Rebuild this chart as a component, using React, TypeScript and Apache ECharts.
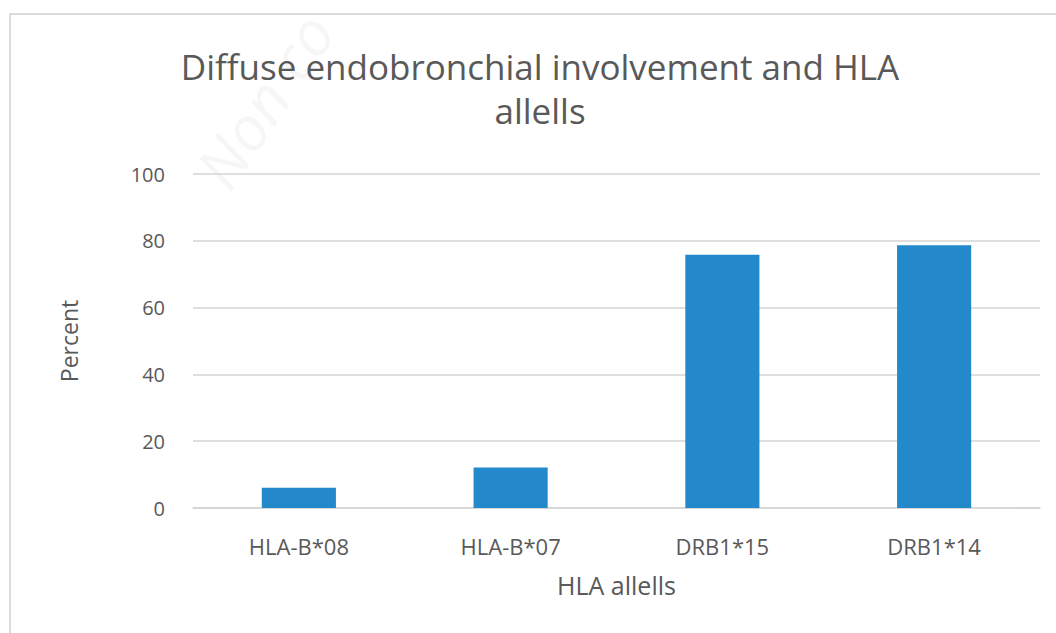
import React, { useEffect, useRef } from "react";
import * as echarts from "echarts";

const categories = ["HLA-B*08", "HLA-B*07", "DRB1*15", "DRB1*14"];
const percentValues = [6.1, 12.1, 75.8, 78.7];
const yTicks = [0, 20, 40, 60, 80, 100];

const TEXT = "#595959";
const FONT = "'Open Sans', 'Noto Sans', sans-serif";

export default function App() {
  const ref = useRef<HTMLDivElement>(null);
  useEffect(() => {
    if (!ref.current) return;
    const chart = echarts.init(ref.current, undefined, { renderer: "svg" });
    chart.setOption({
      animation: false,
      backgroundColor: "#ffffff",
      textStyle: { fontFamily: FONT },
      graphic: [
        {
          type: "rect",
          shape: { x: 10, y: 14, width: 1100, height: 700 },
          style: { fill: "none", stroke: "#d0d0d0", lineWidth: 1.5 },
          silent: true,
        },
        {
          type: "text",
          x: 210,
          y: 180,
          rotation: (56 * Math.PI) / 180,
          style: {
            text: "Non co",
            font: `italic 62px ${FONT}`,
            fill: "rgba(0,0,0,0.035)",
            textAlign: "left",
            textVerticalAlign: "middle",
          },
          silent: true,
        },
        {
          type: "text",
          x: 540,
          y: 44,
          style: {
            text: "Diffuse endobronchial involvement and HLA\nallells",
            font: `35px ${FONT}`,
            lineHeight: 44,
            fill: TEXT,
            textAlign: "center",
            textVerticalAlign: "top",
          },
        },
      ],
      grid: { left: 193, right: 16, top: 174, bottom: 125, containLabel: false },
      xAxis: {
        type: "category",
        data: categories,
        name: "HLA allells",
        nameLocation: "middle",
        nameGap: 64,
        nameTextStyle: { color: TEXT, fontSize: 25, fontFamily: FONT },
        axisLine: { lineStyle: { color: "#d4d4d4", width: 1.5 } },
        axisTick: { show: false },
        axisLabel: { color: TEXT, fontSize: 22, margin: 27, fontFamily: FONT },
      },
      yAxis: {
        type: "value",
        min: 0,
        max: 100,
        interval: 20,
        name: "Percent",
        nameLocation: "middle",
        nameGap: 113,
        nameTextStyle: { color: TEXT, fontSize: 23, fontFamily: FONT },
        axisLine: { show: false },
        axisTick: { show: false },
        axisLabel: {
          color: TEXT,
          fontSize: 20,
          margin: 28,
          fontFamily: FONT,
          formatter: (v: number) => (yTicks.includes(v) ? String(v) : ""),
        },
        splitLine: { lineStyle: { color: "#d4d4d4", width: 1.5 } },
      },
      series: [
        {
          type: "bar",
          data: percentValues,
          barWidth: "35%",
          itemStyle: { color: "#2389cb" },
        },
      ],
    });
    return () => chart.dispose();
  }, []);
  return (
    <div
      ref={ref}
      style={{ position: "absolute", left: 0, top: 0, width: 1056, height: 633 }}
    />
  );
}
